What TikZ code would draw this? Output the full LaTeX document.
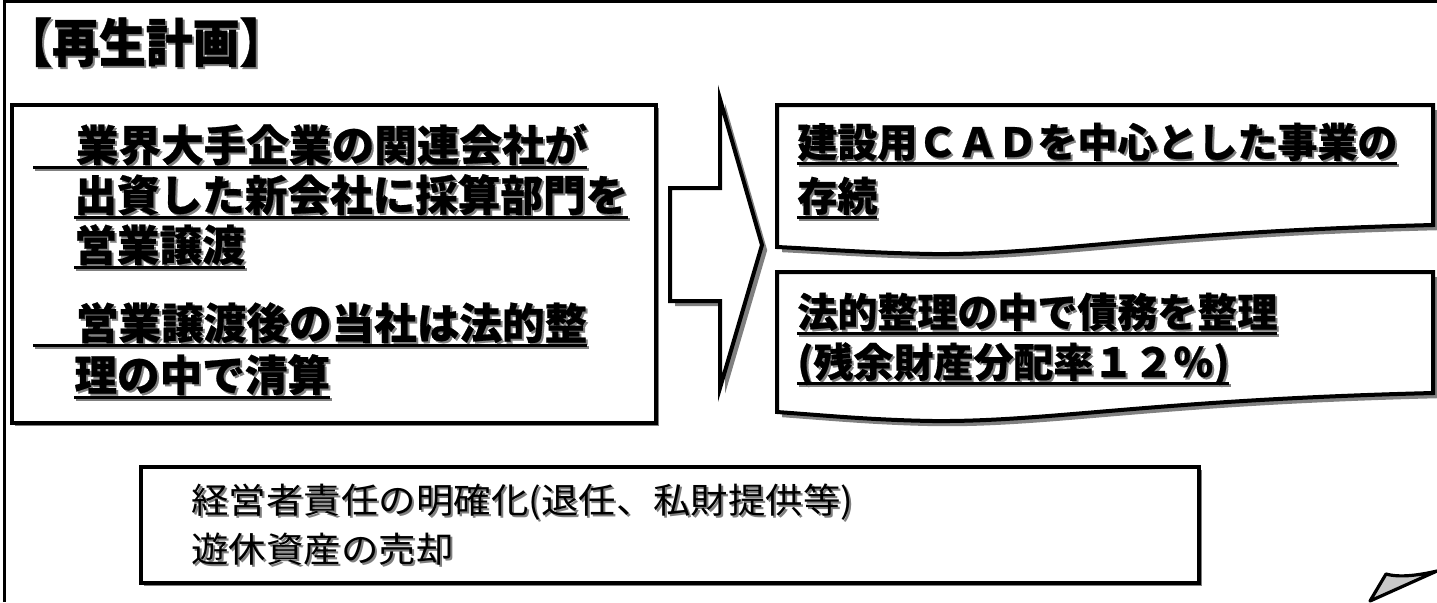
\documentclass[tikz,border=0pt]{standalone}
\usepackage{fontspec}
\setmainfont[BoldFeatures={FakeBold=0.6}]{Noto Sans CJK JP}
\newfontfamily\notefont[FakeStretch=1.07]{Noto Sans CJK JP}
\newfontfamily\titlefont[FakeStretch=0.9, BoldFeatures={FakeBold=0.8}]{Noto Sans CJK JP}
\usetikzlibrary{shadows}

\tikzstyle{frameline} = [draw=black, line width=1.6pt]
\tikzstyle{plainbox} = [draw=black, fill=white, line width=2pt,
    drop shadow={shadow xshift=1.6pt, shadow yshift=-1.6pt, fill=gray, opacity=1}]
\tikzstyle{docbox} = [draw=black, fill=white, line width=2pt,
    drop shadow={shadow xshift=2.6pt, shadow yshift=-2.6pt, fill=gray, opacity=1}]
\tikzstyle{curlbox} = [draw=black, fill=black!22, line width=1.6pt, line join=round]
\tikzstyle{headtext} = [anchor=base west, inner sep=0pt, font=\titlefont\bfseries\fontsize{26}{30}\selectfont]
\tikzstyle{plantext} = [anchor=base west, inner sep=0pt, font=\bfseries\fontsize{21.3}{25}\selectfont]
\tikzstyle{resulttext} = [anchor=base west, inner sep=0pt, font=\bfseries\fontsize{20}{25}\selectfont]
\tikzstyle{notetext} = [anchor=base west, inner sep=0pt, font=\notefont\fontsize{17.5}{22}\selectfont]

\newcommand{\shadetext}[1]{\rlap{\kern1pt\raisebox{-1pt}{\color{gray}#1}}#1}
\newcommand{\ulinetext}[1]{\setbox0\hbox{#1}\rlap{\vrule width \wd0 height -2.4pt depth 3.8pt}\box0}
\newcommand{\ultext}[1]{\shadetext{\ulinetext{#1}}}

\begin{document}
\begin{tikzpicture}[x=0.5pt, y=-0.5pt]
    \useasboundingbox (0,0) rectangle (1437,602);
%------------ Rahmen ---------------------
\draw[frameline] (1437,1.5) -- (4.5,1.5) -- (4.5,602);
\node[headtext] (title) at (5,62) {\shadetext{【再生計画】}};

%------------ Plan links ---------------------
\draw[plainbox] (12,105) rectangle (656,423);
\node[plantext] (planA) at (33,161) {\ultext{　業界大手企業の関連会社が}};
\node[plantext] (planB) at (74,211) {\ultext{出資した新会社に採算部門を}};
\node[plantext] (planC) at (74,261) {\ultext{営業譲渡}};
\node[plantext] (planD) at (33,339) {\ultext{　営業譲渡後の当社は法的整}};
\node[plantext] (planE) at (74,391) {\ultext{理の中で清算}};

%------------ Pfeil ---------------------
\draw[docbox] (670,188) -- (720,188) -- (720,99) -- (762,245) -- (720,388)
    -- (720,301) -- (670,301) -- cycle;

%------------ Ergebnis rechts ---------------------
\draw[docbox] (777,105) -- (1433,105) -- (1433,225)
    .. controls (1150,232) and (1050,255) .. (933,254)
    .. controls (870,253) and (820,249) .. (777,247) -- cycle;
\node[resulttext] (resA) at (797,157) {\ultext{建設用ＣＡＤを中心とした事業の}};
\node[resulttext] (resB) at (797,211) {\ultext{存続}};

\draw[docbox] (777,272) -- (1433,272) -- (1433,393)
    .. controls (1150,400) and (1050,422) .. (933,421)
    .. controls (870,420) and (820,415) .. (777,412) -- cycle;
\node[resulttext] (resC) at (797,327) {\ultext{法的整理の中で債務を整理}};
\node[resulttext] (resD) at (797,377) {\ultext{(残余財産分配率１２％)}};

%------------ Massnahmen unten ---------------------
\draw[plainbox] (141,467) rectangle (1199,583);
\node[notetext] (noteA) at (191,513) {\shadetext{経営者責任の明確化(退任、私財提供等)}};
\node[notetext] (noteB) at (191,562) {\shadetext{遊休資産の売却}};

%------------ Eselsohr ---------------------
\draw[curlbox] (1370,601) -- (1386,574) .. controls (1400,578) and (1420,575) .. (1437,571) -- cycle;
\end{tikzpicture}
\end{document}
